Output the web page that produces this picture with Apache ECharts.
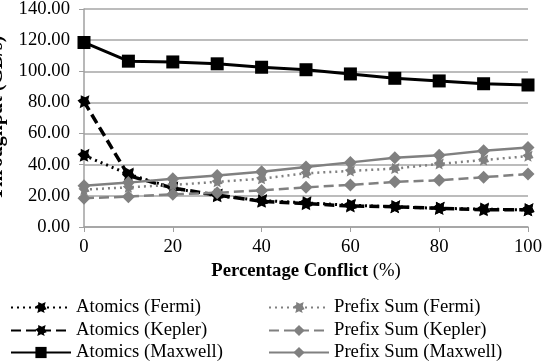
<html>
<head>
  <meta charset="utf-8">
  <script src="https://cdn.jsdelivr.net/npm/echarts@6/dist/echarts.min.js"></script>
</head>
<body style="margin:0">
  <div id="main" style="width:543px;height:363px;"></div>
</body>
<script>
  // x values (percentage conflict)
  var conflict = [0, 10, 20, 30, 40, 50, 60, 70, 80, 90, 100];
  var atomicsFermi = [46, 34, 25, 20, 17, 15.5, 14, 13, 12, 11.5, 11];
  var atomicsKepler = [80.5, 33, 25, 20.5, 16.5, 15, 13.5, 13, 12, 11, 11];
  var atomicsMaxwell = [118.5, 106.5, 106, 104.8, 102.6, 101, 98.3, 95.5, 93.8, 92, 91.2];
  var prefixFermi = [24, 25.5, 27, 29, 31, 34.5, 36, 37.5, 40.5, 43, 45.5];
  var prefixKepler = [18.5, 19.5, 21, 22, 23.5, 25.5, 27, 29, 30, 32, 34];
  var prefixMaxwell = [26.5, 28.5, 31, 33, 35.5, 38.5, 41.5, 44.5, 46, 49, 51];
  var seriesNames = ['Atomics (Fermi)', 'Atomics (Kepler)', 'Atomics (Maxwell)',
    'Prefix Sum (Fermi)', 'Prefix Sum (Kepler)', 'Prefix Sum (Maxwell)'];

  var blotch = 'path://M3,0 L7,2 L11,0 L10,4 L12,8 L9,9 L10,12 L6,10 L2,12 L3,8 L0,5 L3,3 Z';
  var font = 'Liberation Serif';
  var fs = 18.7;

  function pairs(vals) {
    var out = [];
    for (var i = 0; i < conflict.length; i++) out.push([conflict[i], vals[i]]);
    return out;
  }

  function mk(name, vals, color, type, symbol, size, width) {
    return {
      name: name,
      type: 'line',
      data: pairs(vals),
      symbol: symbol,
      symbolSize: size,
      showSymbol: true,
      itemStyle: { color: color },
      lineStyle: { color: color, width: width, type: type },
      emphasis: { disabled: true },
      animation: false
    };
  }

  // one legend per entry, two columns of three rows
  var legends = [];
  var rowTops = [298, 321, 343];
  for (var i = 0; i < seriesNames.length; i++) {
    legends.push({
      left: i < 3 ? 10 : 268,
      top: rowTops[i % 3],
      padding: 0,
      itemWidth: 60, itemHeight: 14,
      textStyle: { fontFamily: font, fontSize: fs, color: '#000' },
      data: [seriesNames[i]]
    });
  }

  var chart = echarts.init(document.getElementById('main'));
  chart.setOption({
    textStyle: { fontFamily: font },
    grid: { left: 84, right: 15, top: 9, bottom: 136, outerBoundsMode: 'none' },
    legend: legends,
    xAxis: {
      type: 'value', min: 0, max: 100, interval: 20,
      name: '{b|Percentage Conflict} (%)',
      nameLocation: 'middle', nameGap: 33,
      nameTextStyle: {
        fontFamily: font, fontSize: fs, color: '#000',
        rich: { b: { fontFamily: font, fontSize: fs, fontWeight: 'bold', color: '#000' } }
      },
      axisLine: { lineStyle: { color: '#a0a0a0', width: 1.5 } },
      axisTick: { show: true, length: 5, lineStyle: { color: '#a0a0a0' } },
      axisLabel: { fontFamily: font, fontSize: fs, color: '#000', margin: 11 },
      splitLine: { show: false }
    },
    yAxis: {
      type: 'value', min: 0, max: 140, interval: 20,
      name: 'Throughput (GB/s)',
      nameLocation: 'middle', nameGap: 77,
      nameTextStyle: { fontFamily: font, fontSize: 20, fontWeight: 'bold', color: '#000' },
      axisLine: { show: true, lineStyle: { color: '#a0a0a0', width: 1.5 } },
      axisTick: { show: true, length: 5, lineStyle: { color: '#a0a0a0' } },
      axisLabel: {
        fontFamily: font, fontSize: fs, color: '#000', margin: 14,
        formatter: function (v) { return v.toFixed(2); }
      },
      splitLine: { lineStyle: { color: '#a6a6a6', width: 1.5 } }
    },
    series: [
      mk(seriesNames[0], atomicsFermi, '#000', [2, 4], blotch, 13, 3),
      mk(seriesNames[1], atomicsKepler, '#000', [10, 5], blotch, 13, 3.5),
      mk(seriesNames[2], atomicsMaxwell, '#000', 'solid', 'rect', 13, 3),
      mk(seriesNames[3], prefixFermi, '#808080', [2, 4], blotch, 11, 2.5),
      mk(seriesNames[4], prefixKepler, '#808080', [10, 5], 'diamond', 13, 2.5),
      mk(seriesNames[5], prefixMaxwell, '#808080', 'solid', 'diamond', 13, 2.5)
    ]
  });
</script>
</html>
